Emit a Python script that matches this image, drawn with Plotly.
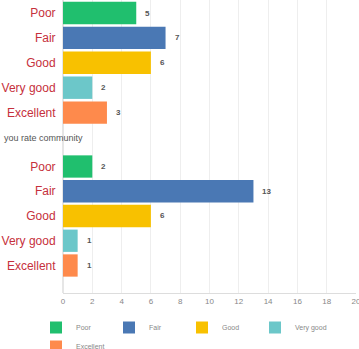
import plotly.graph_objects as go

# Survey answers: counts per rating for two questions
categories = ["Poor", "Fair", "Good", "Very good", "Excellent"]
first_counts = [5, 7, 6, 2, 3]
second_counts = [2, 13, 6, 1, 1]
bar_colors = ["#20bf6e", "#4a78b4", "#f8c100", "#6cc7c9", "#fe8a4c"]
x_ticks = list(range(0, 21, 2))
second_title = "you rate community"

W, H = 359, 349
LEFT, RIGHT = 63, 356       # pixel columns of x = 0 and x = 20
PLOT_BOTTOM = 293           # pixel row of the x axis line
SPLIT = 152                 # pixel row where the two panels meet
PW = RIGHT - LEFT

fig = go.Figure()

for i, cat in enumerate(categories):
    fig.add_trace(go.Bar(
        x=[first_counts[i]], y=[cat], orientation="h", name=cat,
        marker=dict(color=bar_colors[i], line=dict(width=0)),
        width=0.9, xaxis="x2", yaxis="y2", legendgroup=cat, showlegend=True,
        hoverinfo="x+y",
    ))
    fig.add_trace(go.Bar(
        x=[second_counts[i]], y=[cat], orientation="h", name=cat,
        marker=dict(color=bar_colors[i], line=dict(width=0)),
        width=0.9, xaxis="x", yaxis="y", legendgroup=cat, showlegend=False,
        hoverinfo="x+y",
    ))

# value labels just right of each bar
annotations = []
for ax, counts in (("2", first_counts), ("", second_counts)):
    for cat, v in zip(categories, counts):
        annotations.append(dict(
            x=v, y=cat, xref="x" + ax, yref="y" + ax, text="<b>%d</b>" % v,
            showarrow=False, xanchor="left", xshift=7,
            font=dict(family="Liberation Sans, Arial", size=8, color="#555555"),
        ))

# heading of the second question
annotations.append(dict(
    x=(2 - LEFT) / PW, y=1 - 138 / PLOT_BOTTOM, xref="paper", yref="paper",
    text=second_title, showarrow=False, xanchor="left", yanchor="middle",
    font=dict(family="Liberation Sans, Arial", size=9, color="#555555"),
))

def rng(center0, pitch, top_px, bottom_px):
    return [(bottom_px - center0) / pitch, (top_px - center0) / pitch]

cat_font = dict(family="Liberation Sans, Arial", size=12, color="#c6303c")

fig.update_layout(
    width=W, height=H,
    margin=dict(l=LEFT, r=W - RIGHT, t=0, b=H - PLOT_BOTTOM, autoexpand=False),
    paper_bgcolor="white", plot_bgcolor="white",
    barmode="overlay",
    xaxis=dict(
        range=[0, 20], tickvals=x_ticks, showgrid=True, gridcolor="#eeeeee",
        gridwidth=1, zeroline=True, zerolinecolor="#e6e6e6", showline=True,
        linecolor="#dddddd", linewidth=1, ticks="", automargin=False,
        ticklabeloverflow="allow",
        tickfont=dict(family="Liberation Sans, Arial", size=8, color="#888888"),
        anchor="y", fixedrange=True,
    ),
    xaxis2=dict(
        range=[0, 20], tickvals=x_ticks, showgrid=True, gridcolor="#eeeeee",
        gridwidth=1, zeroline=True, zerolinecolor="#e6e6e6", automargin=False,
        showticklabels=False, anchor="y2", matches="x", fixedrange=True,
    ),
    yaxis=dict(
        domain=[0, 1 - SPLIT / PLOT_BOTTOM], type="category",
        categoryarray=categories, range=rng(166.5, 24.75, SPLIT, PLOT_BOTTOM),
        showgrid=False, zeroline=False, ticks="outside", ticklen=4,
        tickcolor="rgba(0,0,0,0)", tickfont=cat_font, fixedrange=True,
        automargin=False,
    ),
    yaxis2=dict(
        domain=[1 - SPLIT / PLOT_BOTTOM, 1], type="category",
        categoryarray=categories, range=rng(13, 24.9, 0, SPLIT),
        showgrid=False, zeroline=False, ticks="outside", ticklen=4,
        tickcolor="rgba(0,0,0,0)", tickfont=cat_font, fixedrange=True,
        automargin=False,
    ),
    legend=dict(
        orientation="h", x=(36 - LEFT) / PW, xanchor="left",
        y=-(313 - PLOT_BOTTOM) / PLOT_BOTTOM, yanchor="top",
        entrywidth=28, entrywidthmode="pixels", itemwidth=30,
        font=dict(family="Liberation Sans, Arial", size=7, color="#888888"),
        traceorder="normal", bgcolor="rgba(0,0,0,0)",
    ),
    annotations=annotations,
    showlegend=True,
)

fig.write_html("out.html")
